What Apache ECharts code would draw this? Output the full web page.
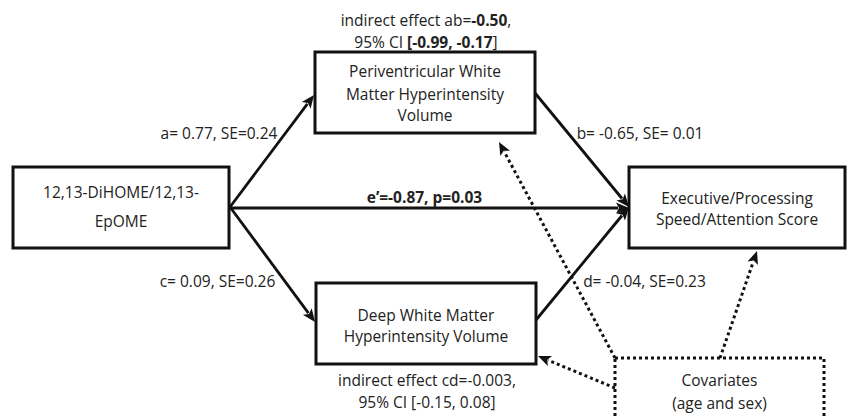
<!DOCTYPE html>
<html><head><meta charset="utf-8">
<script src="https://cdn.jsdelivr.net/npm/echarts@6/dist/echarts.min.js"></script>
<style>html,body{margin:0;padding:0;background:#fff}#c{width:848px;height:419px}</style>
</head><body><div id="c"></div>
<script>
// ---------- data ----------
const nodeNames = [
  ['12,13-DiHOME/12,13-', 'EpOME'],
  ['Periventricular White', 'Matter Hyperintensity', 'Volume'],
  ['Deep White Matter', 'Hyperintensity Volume'],
  ['Executive/Processing', 'Speed/Attention Score'],
  ['Covariates', '(age and sex)']
];
const pathNames = ['a', 'b', 'c', 'd'];
const pathCoef = [0.77, -0.65, 0.09, -0.04];
const pathSE = [0.24, 0.01, 0.26, 0.23];
const directName = 'e\u2019';
const directEffect = -0.87;
const directP = 0.03;
const indirectNames = ['ab', 'cd'];
const indirectEffect = [-0.50, -0.003];
const indirectCILow = [-0.99, -0.15];
const indirectCIHigh = [-0.17, 0.08];

// ---------- layout (diagram units, px) ----------
const boxLayout = [
  { r: [13, 167, 229, 248], lines: [192, 221] },
  { r: [315, 52, 535, 133], lines: [71, 94, 115] },
  { r: [316, 283, 536, 364], lines: [315, 336] },
  { r: [629, 167, 845, 248], lines: [198, 219] },
  { r: [615, 358, 824, 445], lines: [380, 403], dashed: true }
];
const edgeLayout = [
  { p: [230, 207, 314, 95] },
  { p: [230, 207, 315, 322] },
  { p: [230, 208, 629, 208] },
  { p: [535, 93, 629, 207] },
  { p: [536, 320, 629, 207] },
  { p: [615, 358, 499, 142], dotted: true },
  { p: [720, 358, 757, 251], dotted: true },
  { p: [615, 388, 538, 356], dotted: true }
];

const FONT = '"Open Sans", "Noto Sans", sans-serif';
const FS = 15.5;
const INK = '#111';
const TXT = '#222';

function fmt(v, d) { return v.toFixed(d); }

// labels
const labels = [];
boxLayout.forEach((b, i) => {
  const cx = (b.r[0] + b.r[2]) / 2;
  const cxAdj = i === 4 ? 719.5 : cx;
  nodeNames[i].forEach((t, k) => labels.push({ x: cxAdj, y: b.lines[k], text: '{n|' + t + '}' }));
});
const pathFmt = ['{n}= {c}, SE={s}', '{n}= {c}, SE= {s}', '{n}= {c}, SE={s}', '{n}= {c}, SE={s}'];
const pathPos = [[219, 133], [640, 133], [217.5, 281], [644.5, 281]];
pathNames.forEach((n, i) => {
  const t = pathFmt[i].replace('{n}', n).replace('{c}', fmt(pathCoef[i], 2)).replace('{s}', fmt(pathSE[i], 2));
  labels.push({ x: pathPos[i][0], y: pathPos[i][1], text: '{n|' + t + '}' });
});
labels.push({ x: 424.5, y: 197, text: '{b|' + directName + '=' + fmt(directEffect, 2) + ', p=' + fmt(directP, 2) + '}' });
// indirect ab (bold values)
labels.push({ x: 426, y: 20, text: '{n|indirect effect ' + indirectNames[0] + '=}{b|' + fmt(indirectEffect[0], 2) + '}{n|,}' });
labels.push({ x: 426, y: 42, text: '{n|95% CI }{b|[' + fmt(indirectCILow[0], 2) + ', ' + fmt(indirectCIHigh[0], 2) + '}{n|]}' });
// indirect cd (plain)
labels.push({ x: 427, y: 380, text: '{n|indirect effect ' + indirectNames[1] + '=' + fmt(indirectEffect[1], 3) + ',}' });
labels.push({ x: 427, y: 402, text: '{n|95% CI [' + fmt(indirectCILow[1], 2) + ', ' + fmt(indirectCIHigh[1], 2) + ']}' });

const rich = {
  n: { fontFamily: FONT, fontSize: FS, fontWeight: 'normal', fill: TXT, color: TXT },
  b: { fontFamily: FONT, fontSize: FS, fontWeight: 'bold', fill: TXT, color: TXT }
};

const chart = echarts.init(document.getElementById('c'), null, { renderer: 'svg' });

chart.setOption({
  animation: false,
  backgroundColor: '#fff',
  grid: { left: 0, right: 0, top: 0, bottom: 0, containLabel: false },
  xAxis: { type: 'value', min: 0, max: 848, show: false },
  yAxis: { type: 'value', min: 0, max: 419, inverse: true, show: false },
  series: [
    {
      type: 'custom', name: 'paths', z: 1, clip: false,
      data: edgeLayout.map(e => e.p),
      encode: { x: [0, 2], y: [1, 3] },
      renderItem(params, api) {
        const e = edgeLayout[params.dataIndex];
        const a = api.coord([api.value(0), api.value(1)]);
        const b = api.coord([api.value(2), api.value(3)]);
        const dx = b[0] - a[0], dy = b[1] - a[1], len = Math.hypot(dx, dy);
        const ux = dx / len, uy = dy / len;
        const L = 13, W = 5.5;
        const bx = b[0] - ux * L, by = b[1] - uy * L;
        return {
          type: 'group',
          children: [
            { type: 'line', shape: { x1: a[0], y1: a[1], x2: bx + ux * 2, y2: by + uy * 2 },
              style: { stroke: INK, lineWidth: e.dotted ? 3 : 2.8, lineDash: e.dotted ? [3, 3] : null, fill: null } },
            { type: 'polygon', shape: { points: [[b[0], b[1]], [bx - uy * W, by + ux * W], [bx + ux * 3, by + uy * 3], [bx + uy * W, by - ux * W]] },
              style: { fill: INK, stroke: null } }
          ]
        };
      }
    },
    {
      type: 'custom', name: 'boxes', z: 2, clip: false,
      data: boxLayout.map(b => b.r),
      encode: { x: [0, 2], y: [1, 3] },
      renderItem(params, api) {
        const b = boxLayout[params.dataIndex];
        const p0 = api.coord([api.value(0), api.value(1)]);
        const p1 = api.coord([api.value(2), api.value(3)]);
        return {
          type: 'rect',
          shape: { x: p0[0], y: p0[1], width: p1[0] - p0[0], height: p1[1] - p0[1] },
          style: { fill: b.dashed ? 'rgba(255,255,255,0)' : '#fff', stroke: INK, lineWidth: 3, lineDash: b.dashed ? [3, 3] : null }
        };
      }
    },
    {
      type: 'custom', name: 'labels', z: 3, clip: false,
      data: labels.map(l => [l.x, l.y]),
      encode: { x: 0, y: 1 },
      renderItem(params, api) {
        const l = labels[params.dataIndex];
        const p = api.coord([api.value(0), api.value(1)]);
        return {
          type: 'text',
          style: { x: p[0], y: p[1], text: l.text, rich: rich, align: 'center', verticalAlign: 'middle',
                   fontFamily: FONT, fontSize: FS, fill: TXT }
        };
      }
    }
  ]
});
</script>
</body></html>
